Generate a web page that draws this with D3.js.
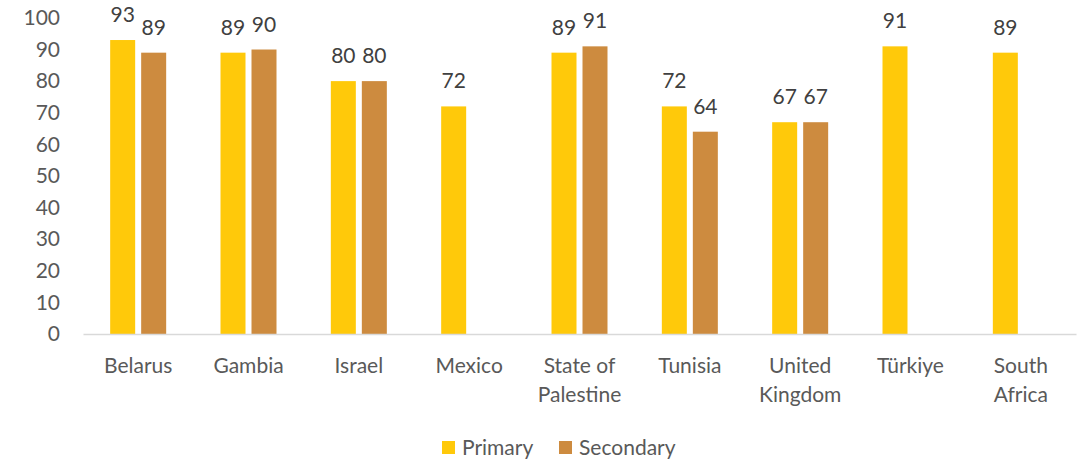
<!DOCTYPE html>
<html>
<head>
<meta charset="utf-8">
<script src="https://cdn.jsdelivr.net/npm/d3@7"></script>
<style>
  html, body { margin: 0; padding: 0; background: #fff; }
  svg { display: block; font-family: Lato, "Open Sans", sans-serif; }
</style>
</head>
<body>
<svg id="chart" width="1081" height="462"></svg>
<script>
const categories = ["Belarus", "Gambia", "Israel", "Mexico", "State of Palestine", "Tunisia", "United Kingdom", "Türkiye", "South Africa"];
const seriesNames = ["Primary", "Secondary"];
const primaryValues = [93, 89, 80, 72, 89, 72, 67, 91, 89];
const secondaryValues = [89, 90, 80, null, 91, 64, 67, null, null];
const yTicks = [0, 10, 20, 30, 40, 50, 60, 70, 80, 90, 100];
const colors = ["#FFC90A", "#CD8B3F"];

const svg = d3.select("#chart");
const plotLeft = 83, plotRight = 1076, plotTop = 17.9, plotBottom = 334;

const x0 = d3.scaleBand().domain(categories).range([plotLeft, plotRight]).padding(0);
const groupW = 56;
const x1 = d3.scaleBand().domain(seriesNames).range([0, groupW]).paddingInner(6 / 31).paddingOuter(0);
const y = d3.scaleLinear().domain([0, 100]).range([plotBottom, plotTop]);

// y-axis labels
const yAxis = d3.axisLeft(y).tickValues(yTicks).tickSize(0).tickPadding(0);
const yg = svg.append("g").attr("transform", "translate(60,0)").call(yAxis);
yg.select(".domain").remove();
yg.selectAll("text").attr("font-size", 21).attr("fill", "#595959").attr("font-family", "Lato, 'Open Sans', sans-serif");

// bars
const rows = categories.map((c, i) => ({ cat: c, vals: [primaryValues[i], secondaryValues[i]] }));
const groups = svg.append("g").selectAll("g").data(rows).join("g")
  .attr("transform", d => `translate(${x0(d.cat) + (x0.bandwidth() - groupW) / 2},0)`);

groups.selectAll("rect").data(d => d.vals.map((v, j) => ({ s: seriesNames[j], v, j })).filter(e => e.v != null))
  .join("rect")
  .attr("x", e => x1(e.s))
  .attr("width", x1.bandwidth())
  .attr("y", e => y(e.v))
  .attr("height", e => y(0) - y(e.v))
  .attr("fill", e => colors[e.j]);

groups.selectAll("text.lbl").data(d => d.vals.map((v, j) => ({ s: seriesNames[j], v, j })).filter(e => e.v != null))
  .join("text")
  .attr("class", "lbl")
  .attr("x", e => x1(e.s) + x1.bandwidth() / 2)
  .attr("y", e => y(e.v) - 18)
  .attr("text-anchor", "middle")
  .attr("font-size", 21)
  .attr("fill", "#404040")
  .text(e => d3.format("d")(Math.round(e.v)));

// x axis
const xAxis = d3.axisBottom(x0).tickSize(0).tickPadding(0);
const xg = svg.append("g").attr("transform", `translate(0,${plotBottom})`).call(xAxis);
xg.select(".domain").attr("stroke", "#D9D9D9").attr("stroke-width", 1.5);
xg.selectAll(".tick text").attr("font-size", 21).attr("fill", "#595959")
  .attr("font-family", "Lato, 'Open Sans', sans-serif")
  .each(function (d) {
    const t = d3.select(this);
    const words = d.split(" ");
    const lines = [];
    let cur = "";
    const maxW = 95;
    t.text(null);
    const probe = t.append("tspan");
    words.forEach(w => {
      const test = cur ? cur + " " + w : w;
      probe.text(test);
      if (probe.node().getComputedTextLength() > maxW && cur) { lines.push(cur); cur = w; }
      else cur = test;
    });
    lines.push(cur);
    probe.remove();
    t.attr("dy", null).attr("y", 0);
    lines.forEach((ln, i) => {
      t.append("tspan").attr("x", 0).attr("y", 39 + i * 28.5).text(ln);
    });
  });

// legend
const legend = svg.append("g");
const legendItems = [{ x: 442, name: seriesNames[0], c: colors[0] }, { x: 559, name: seriesNames[1], c: colors[1] }];
legendItems.forEach(it => {
  legend.append("rect").attr("x", it.x).attr("y", 441).attr("width", 13).attr("height", 13).attr("fill", it.c);
  legend.append("text").attr("x", it.x + 20).attr("y", 455).attr("font-size", 21).attr("fill", "#595959").text(it.name);
});
</script>
</body>
</html>
